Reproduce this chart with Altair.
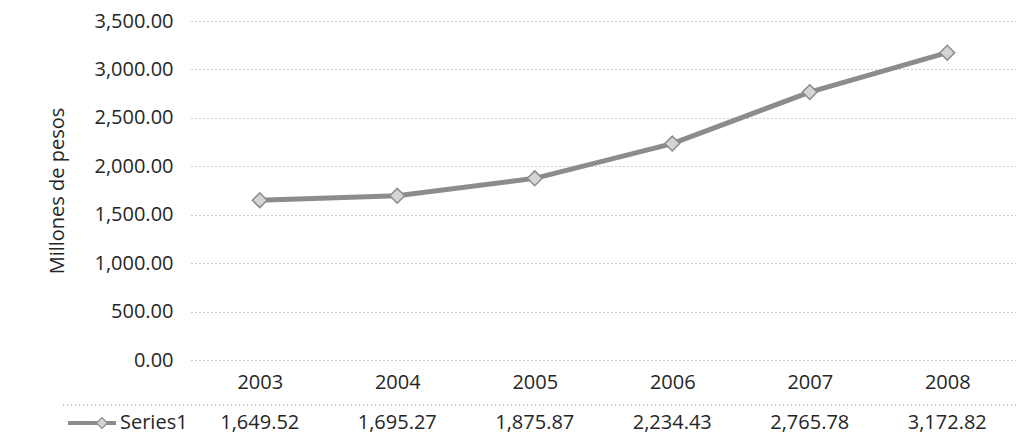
import altair as alt
import pandas as pd

years = ["2003", "2004", "2005", "2006", "2007", "2008"]
values = [1649.52, 1695.27, 1875.87, 2234.43, 2765.78, 3172.82]
y_ticks = [0, 500, 1000, 1500, 2000, 2500, 3000, 3500]
series_name = "Series1"
y_title = "Millones de pesos"

df = pd.DataFrame({"year": years, "value": values})
df["label"] = [f"{v:,.2f}" for v in values]

W, H = 825, 339
FONT = "Open Sans"
TXT = "#262626"
LINE = "#8c8c8c"
FS = 20

x_enc = alt.X(
    "year:N",
    sort=years,
    scale=alt.Scale(padding=0.5),
    axis=alt.Axis(
        title=None, labelAngle=0, domain=False, ticks=False, grid=False,
        labelPadding=12, labelFontSize=FS, labelFont=FONT, labelColor=TXT,
    ),
)
y_enc = alt.Y(
    "value:Q",
    scale=alt.Scale(domain=[0, 3500], nice=False, zero=True),
    axis=alt.Axis(
        values=y_ticks, format=",.2f", title=y_title,
        titleX=-134, titleY=H / 2, titleBaseline="middle", titleAlign="center",
        titleFontSize=20, titleFontWeight="normal", titleFont=FONT, titleColor=TXT,
        labelFontSize=FS, labelFont=FONT, labelColor=TXT, labelPadding=18,
        ticks=False, domain=False,
        gridColor="#9a9a9a", gridDash=[1, 3], gridWidth=1,
    ),
)

base = alt.Chart(df)
line = base.mark_line(color=LINE, strokeWidth=5).encode(x=x_enc, y=y_enc)
pts = base.mark_point(
    shape="diamond", filled=True, size=220, color="#d4d4d4",
    stroke=LINE, strokeWidth=1.5, opacity=1,
).encode(x=x_enc, y="value:Q")
table_vals = base.mark_text(
    font=FONT, fontSize=FS, color=TXT, baseline="middle", align="center"
).encode(x=x_enc, y=alt.value(402), text="label:N")

one = alt.Chart(pd.DataFrame({"name": [series_name]}))
series_txt = one.mark_text(
    font=FONT, fontSize=FS, color=TXT, baseline="middle", align="left"
).encode(x=alt.value(-71), y=alt.value(402), text="name:N")
leg_rule = one.mark_rule(color=LINE, strokeWidth=4).encode(
    x=alt.value(-123), x2=alt.value(-75), y=alt.value(402)
)
leg_pt = one.mark_point(
    shape="diamond", filled=True, size=120, color="#d4d4d4",
    stroke=LINE, strokeWidth=1.2, opacity=1,
).encode(x=alt.value(-89), y=alt.value(402))
sep = one.mark_rule(color="#9a9a9a", strokeWidth=1, strokeDash=[1, 3]).encode(
    x=alt.value(-128), x2=alt.value(W), y=alt.value(384)
)

chart = (
    alt.layer(sep, line, pts, table_vals, leg_rule, leg_pt, series_txt)
    .properties(
        width=W, height=H,
        autosize=alt.AutoSizeParams(type="none"),
        padding={"left": 183, "top": 13, "right": 0, "bottom": 80},
        background="white",
    )
    .configure_view(stroke=None)
)

chart.save("out.html", embed_options={"renderer": "svg", "actions": False})
